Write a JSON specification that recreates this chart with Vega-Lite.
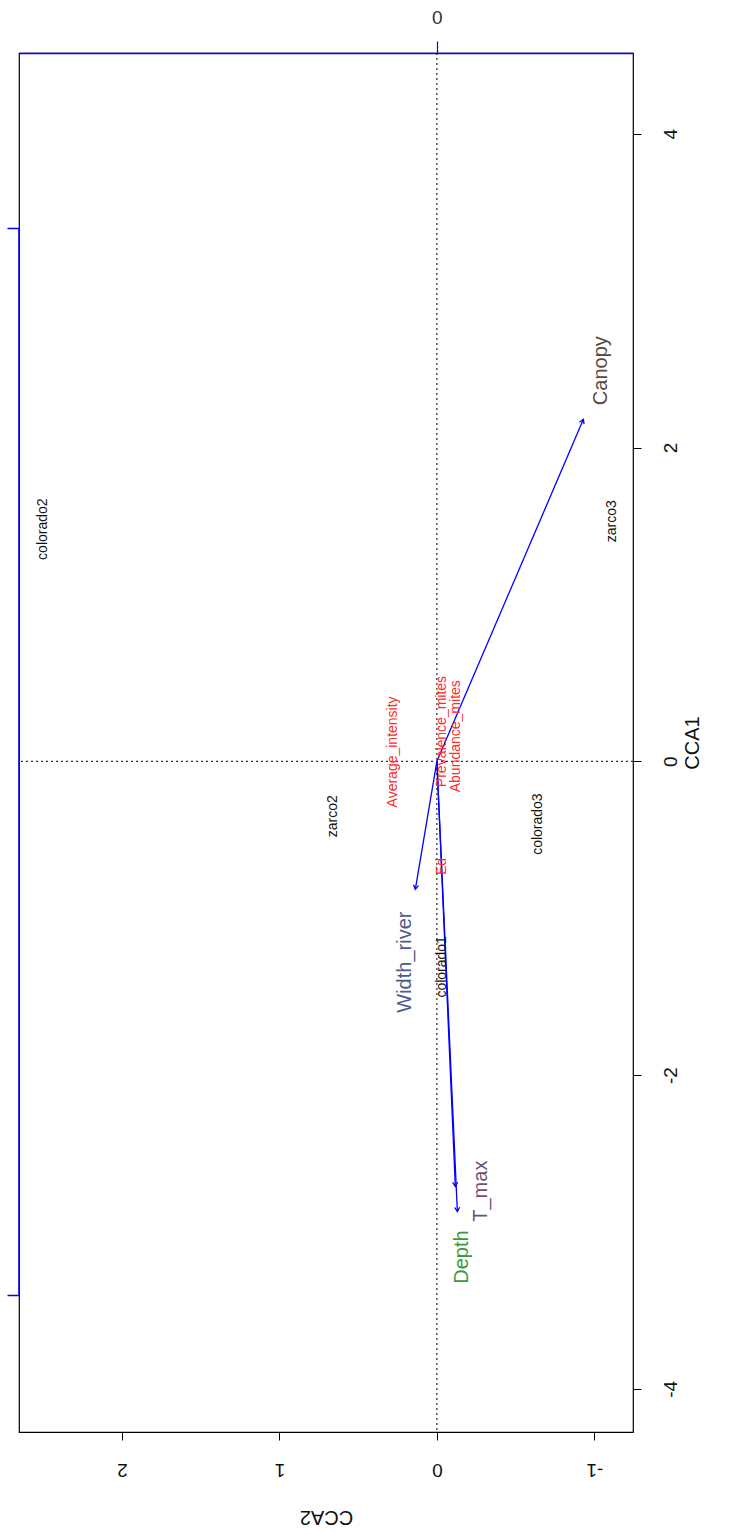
{
  "$schema": "https://vega.github.io/schema/vega-lite/v6.json",
  "width": 614,
  "height": 1379,
  "autosize": "none",
  "padding": {"left": 19, "top": 53, "right": 99, "bottom": 102},
  "background": "white",
  "config": {
    "view": {"stroke": "#000000", "strokeWidth": 1.2},
    "font": "Liberation Sans",
    "axis": {"grid": false, "labelColor": "#111111", "titleColor": "#111111", "titleFontWeight": "normal", "tickColor": "#000000"}
  },
  "datasets": {
    "arrows": [
      {"name": "Canopy", "o2": 0, "o1": 0, "CCA2": -0.93, "CCA1": 2.18, "labCCA2": -1.04, "labCCA1": 2.49},
      {"name": "Width_river", "o2": 0, "o1": 0, "CCA2": 0.137, "CCA1": -0.816, "labCCA2": 0.2, "labCCA1": -1.28},
      {"name": "T_max", "o2": 0, "o1": 0, "CCA2": -0.117, "CCA1": -2.71, "labCCA2": -0.28, "labCCA1": -2.74},
      {"name": "Depth", "o2": 0, "o1": 0, "CCA2": -0.13, "CCA1": -2.87, "labCCA2": -0.16, "labCCA1": -3.16}
    ],
    "sites": [
      {"site": "colorado2", "CCA2": 2.5, "CCA1": 1.48},
      {"site": "zarco3", "CCA2": -1.11, "CCA1": 1.53},
      {"site": "colorado3", "CCA2": -0.64, "CCA1": -0.4},
      {"site": "zarco2", "CCA2": 0.66, "CCA1": -0.35},
      {"site": "colorado1", "CCA2": -0.03, "CCA1": -1.31}
    ],
    "species": [
      {"sp": "Average_intensity", "CCA2": 0.28, "CCA1": 0.06},
      {"sp": "Prevalence_mites", "CCA2": -0.03, "CCA1": 0.19},
      {"sp": "Abundance_mites", "CCA2": -0.12, "CCA1": 0.16},
      {"sp": "Ed", "CCA2": -0.03, "CCA1": -0.67}
    ],
    "blueaxis": [{"edge": 2.653, "top": 3.4, "bottom": -3.4}]
  },
  "layer": [
    {
      "data": {"values": [{"z": 0}]},
      "mark": {"type": "rule", "color": "#000000", "strokeDash": [2, 3], "strokeWidth": 1},
      "encoding": {
        "y": {
          "field": "z", "type": "quantitative",
          "scale": {"domain": [-4.275, 4.515], "nice": false, "zero": false},
          "axis": {
            "orient": "right", "values": [-4, -2, 0, 2, 4], "title": "CCA1",
            "labelExpr": "datum.value < 0 ? '-' + abs(datum.value) : '' + datum.value",
            "domain": false, "tickSize": 8, "labelAngle": 270, "labelAlign": "center", "labelBaseline": "middle",
            "labelPadding": 29, "labelFontSize": 19, "titleFontSize": 20, "titleAngle": 270, "titleBaseline": "top", "titlePadding": 2
          }
        }
      }
    },
    {
      "data": {"values": [{"z": 0}]},
      "mark": {"type": "rule", "color": "#000000", "strokeDash": [2, 3], "strokeWidth": 1},
      "encoding": {
        "x": {
          "field": "z", "type": "quantitative",
          "scale": {"domain": [-1.245, 2.653], "reverse": true, "nice": false, "zero": false},
          "axis": {
            "orient": "bottom", "values": [-1, 0, 1, 2], "title": "CCA2",
            "labelExpr": "datum.value < 0 ? '-' + abs(datum.value) : '' + datum.value",
            "domain": false, "tickSize": 8, "labelAngle": 180, "labelAlign": "center", "labelBaseline": "middle",
            "labelPadding": 29, "labelFontSize": 19, "titleFontSize": 20, "titleAngle": 180, "titleBaseline": "bottom", "titlePadding": 28
          }
        }
      }
    },
    {
      "data": {"name": "arrows"},
      "mark": {"type": "rule", "color": "#0000ff", "strokeWidth": 1.3},
      "encoding": {
        "x": {"field": "o2", "type": "quantitative", "scale": {"domain": [-1.245, 2.653], "reverse": true, "nice": false, "zero": false}, "axis": null},
        "y": {"field": "o1", "type": "quantitative", "scale": {"domain": [-4.275, 4.515], "nice": false, "zero": false}, "axis": null},
        "x2": {"field": "CCA2"},
        "y2": {"field": "CCA1"}
      }
    },
    {
      "data": {"name": "arrows"},
      "transform": [{"calculate": "atan2(-datum.CCA2, datum.CCA1) * 180 / PI", "as": "ang"}],
      "mark": {"type": "point", "shape": "M -0.6 1 L 0 0 L 0.6 1", "filled": false, "stroke": "#0000ff", "strokeWidth": 1.3, "size": 70, "opacity": 1},
      "encoding": {
        "x": {"field": "CCA2", "type": "quantitative", "scale": {"domain": [-1.245, 2.653], "reverse": true, "nice": false, "zero": false}, "axis": null},
        "y": {"field": "CCA1", "type": "quantitative", "scale": {"domain": [-4.275, 4.515], "nice": false, "zero": false}, "axis": null},
        "angle": {"field": "ang", "type": "quantitative", "scale": null}
      }
    },
    {
      "data": {"name": "arrows"},
      "mark": {"type": "text", "angle": 270, "align": "center", "baseline": "middle", "fontSize": 20},
      "encoding": {
        "x": {"field": "labCCA2", "type": "quantitative", "scale": {"domain": [-1.245, 2.653], "reverse": true, "nice": false, "zero": false}, "axis": null},
        "y": {"field": "labCCA1", "type": "quantitative", "scale": {"domain": [-4.275, 4.515], "nice": false, "zero": false}, "axis": null},
        "text": {"field": "name"},
        "color": {
          "field": "name", "type": "nominal", "legend": null,
          "scale": {"domain": ["Canopy", "Width_river", "T_max", "Depth"], "range": ["#5b4a40", "#4f5b8e", "#6e4f73", "#3a9b3a"]}
        }
      }
    },
    {
      "data": {"name": "sites"},
      "mark": {"type": "text", "angle": 270, "align": "center", "baseline": "middle", "fontSize": 14, "color": "#111111"},
      "encoding": {
        "x": {"field": "CCA2", "type": "quantitative", "scale": {"domain": [-1.245, 2.653], "reverse": true, "nice": false, "zero": false}, "axis": null},
        "y": {"field": "CCA1", "type": "quantitative", "scale": {"domain": [-4.275, 4.515], "nice": false, "zero": false}, "axis": null},
        "text": {"field": "site"}
      }
    },
    {
      "data": {"name": "species"},
      "mark": {"type": "text", "angle": 270, "align": "center", "baseline": "middle", "fontSize": 14, "color": "#ff2a2a"},
      "encoding": {
        "x": {"field": "CCA2", "type": "quantitative", "scale": {"domain": [-1.245, 2.653], "reverse": true, "nice": false, "zero": false}, "axis": null},
        "y": {"field": "CCA1", "type": "quantitative", "scale": {"domain": [-4.275, 4.515], "nice": false, "zero": false}, "axis": null},
        "text": {"field": "sp"}
      }
    },
    {
      "data": {"name": "blueaxis"},
      "mark": {"type": "rule", "color": "#0000ff", "strokeWidth": 1.5},
      "encoding": {
        "x": {
          "field": "edge", "type": "quantitative",
          "scale": {"domain": [-1.245, 2.653], "reverse": true, "nice": false, "zero": false},
          "axis": {
            "orient": "top", "values": [0], "title": null, "domain": true, "domainColor": "#0000ff", "domainWidth": 1.5,
            "tickColor": "#0000ff", "tickSize": 12, "tickWidth": 1.2, "labelAngle": 0, "labelAlign": "center", "labelBaseline": "middle",
            "labelPadding": 24, "labelFontSize": 19, "labelColor": "#333333"
          }
        },
        "y": {
          "field": "top", "type": "quantitative",
          "scale": {"domain": [-4.275, 4.515], "nice": false, "zero": false},
          "axis": {
            "orient": "left", "values": [3.4, -3.4], "title": null, "domain": false, "labels": false,
            "tickColor": "#0000ff", "tickSize": 12, "tickWidth": 1.5
          }
        },
        "y2": {"field": "bottom"}
      }
    }
  ],
  "resolve": {"axis": {"x": "independent", "y": "independent"}}
}
